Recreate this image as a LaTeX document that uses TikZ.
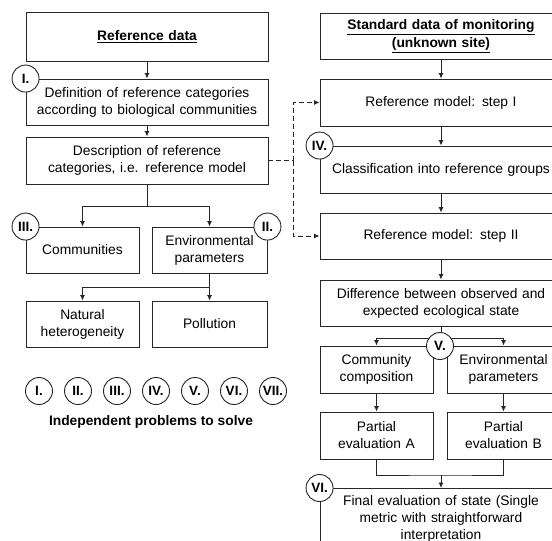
\documentclass[tikz,border=0pt]{standalone}
\usepackage{fontspec}
\setmainfont{Liberation Sans}
\usetikzlibrary{arrows.meta}
\tikzset{
  x=1pt,y=-1pt,
  ln/.style={draw=black!85,line width=0.9pt},
  box/.style={ln,rectangle,align=center,inner sep=0pt,minimum height=46pt,text width=#1,minimum width=#1,font=\fontsize{13.8}{17}\selectfont},
  box/.default=242pt,
  num/.style={ln,circle,fill=white,minimum size=27pt,inner sep=0pt,font=\bfseries\fontsize{13.5}{14}\selectfont},
  arr/.style={ln,-{Latex[length=5.5pt,width=5pt]}},
  dsh/.style={ln,dash pattern=on 5pt off 3pt},
}
\begin{document}
\begin{tikzpicture}
\useasboundingbox (0,0) rectangle (552,541);
\clip (0,0) rectangle (552,541);
\fill[white] (0,0) rectangle (552,541);
% left column
\node[box,minimum height=49pt] (refd) at (147,36.5) {\bfseries\underline{Reference data}};
\node[box] (def) at (147,102) {Definition of reference categories\\according to biological communities};
\node[box,minimum height=47pt] (desc) at (147,160.5) {Description of reference\\categories, i.e. reference model};
\node[box=113pt] (comm) at (82.5,250) {Communities};
\node[box=115pt] (env) at (209.5,250) {Environmental\\parameters};
\node[box=113pt] (nat) at (82.5,324) {Natural\\heterogeneity};
\node[box=115pt] (poll) at (209.5,324) {Pollution};
\draw[arr] (refd) -- (def);
\draw[arr] (def) -- (desc);
\coordinate (s1) at (147,206);
\draw[ln] (desc.south) -- (s1);
\draw[arr] (s1) -| (comm.north);
\draw[arr] (s1) -| (env.north);
\coordinate (s2) at (209.5,287);
\draw[ln] (env.south) -- (s2);
\draw[arr] (s2) -| (nat.north);
\draw[arr] (s2) -- (poll.north);
% right column
\node[box,minimum height=46pt] (std) at (441,36) {\bfseries\underline{Standard data of monitoring}\\[1pt]\bfseries\underline{(unknown site)}};
\node[box,minimum height=47pt] (rm1) at (441,102.5) {Reference model: step I};
\node[box,minimum height=47pt] (cls) at (441,169.5) {Classification into reference groups};
\node[box] (rm2) at (441,236) {Reference model: step II};
\node[box] (diff) at (441,303) {Difference between observed and\\expected ecological state};
\node[box=113pt,minimum height=47pt] (cc) at (376.5,369.5) {Community\\composition};
\node[box=113pt,minimum height=47pt] (ep) at (503.5,369.5) {Environmental\\parameters};
\node[box=113pt,minimum height=47pt] (pa) at (376.5,435.5) {Partial\\evaluation A};
\node[box=113pt,minimum height=47pt] (pb) at (503.5,435.5) {Partial\\evaluation B};
\node[box,anchor=north,minimum height=0pt,inner ysep=7pt] (fin) at (441,488) {Final evaluation of state (Single\\metric with straightforward\\interpretation};
\draw[arr] (std) -- (rm1);
\draw[arr] (rm1) -- (cls);
\draw[arr] (cls) -- (rm2);
\draw[arr] (rm2) -- (diff);
\coordinate (s3) at (441,338);
\draw[ln] (diff.south) -- (s3);
\draw[arr] (s3) -| (cc.north);
\draw[arr] (s3) -| (ep.north);
\draw[arr] (cc) -- (pa);
\draw[arr] (ep) -- (pb);
\coordinate (s4) at (441,475);
\draw[ln] (pa.south) |- (s4) -| (pb.south);
\draw[arr] (s4) -- (fin.north);
% dashed links
\coordinate (d0) at (293,160.5);
\draw[dsh] (desc.east) -- (d0);
\draw[dsh,-{Latex[length=5.5pt,width=5pt]}] (d0) |- (rm1.west);
\draw[dsh,-{Latex[length=5.5pt,width=5pt]}] (d0) |- (rm2.west);
% numbered circles
\node[num] (c1) at (def.north west) {I.};
\node[num] (c3) at (comm.north west) {III.};
\node[num] (c2) at (env.north east) {II.};
\node[num] (c4) at (cls.north west) {IV.};
\node[num] (c5) at (440,346) {V.};
\node[num] (c6) at (fin.north west) {VI.};
% legend
\foreach \n/\t [count=\i from 0] in {l1/I.,l2/II.,l3/III.,l4/IV.,l5/V.,l6/VI.,l7/VII.}
  \node[num] (\n) at (39+39*\i,391) {\t};
\node[font=\bfseries\fontsize{13.8}{17}\selectfont] (leg) at (151,422) {Independent problems to solve};
\end{tikzpicture}
\end{document}
